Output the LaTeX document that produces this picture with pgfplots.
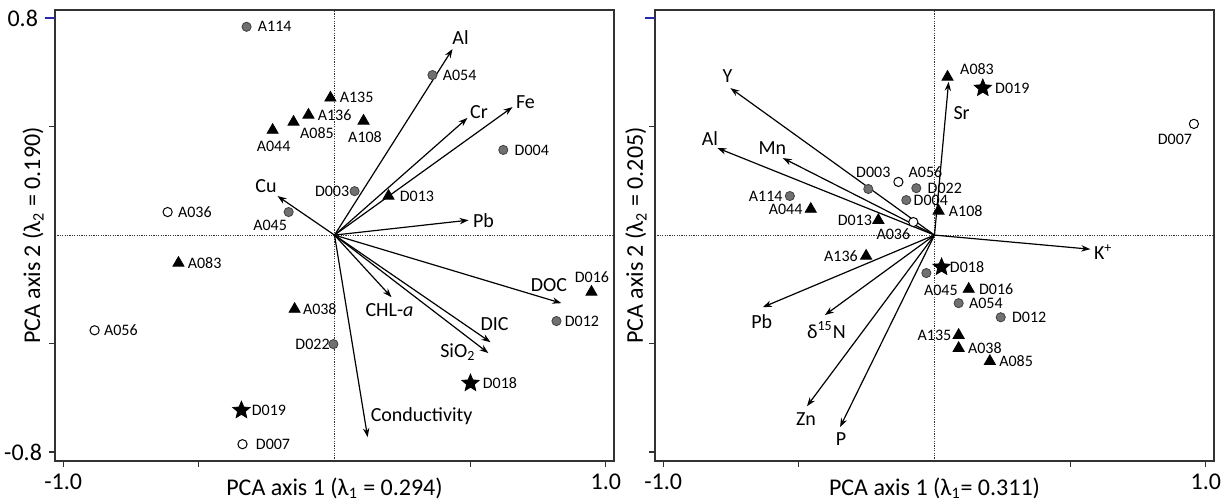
\documentclass[border=0pt]{standalone}
\usepackage{fontspec}
\setmainfont{Carlito}
\usepackage{pgfplots}
\usepackage{pgfplotstable}
\pgfplotsset{compat=1.18}
\usetikzlibrary{arrows.meta}

\definecolor{ptgray}{RGB}{112,112,112}
\definecolor{boxgray}{RGB}{50,50,50}
\definecolor{tickblue}{RGB}{40,40,170}

% filled five-pointed star
\pgfdeclareplotmark{fstar}{%
  \pgfpathmoveto{\pgfpointpolar{90}{\pgfplotmarksize}}%
  \pgfpathlineto{\pgfpointpolar{126}{0.45\pgfplotmarksize}}%
  \pgfpathlineto{\pgfpointpolar{162}{\pgfplotmarksize}}%
  \pgfpathlineto{\pgfpointpolar{198}{0.45\pgfplotmarksize}}%
  \pgfpathlineto{\pgfpointpolar{234}{\pgfplotmarksize}}%
  \pgfpathlineto{\pgfpointpolar{270}{0.45\pgfplotmarksize}}%
  \pgfpathlineto{\pgfpointpolar{306}{\pgfplotmarksize}}%
  \pgfpathlineto{\pgfpointpolar{342}{0.45\pgfplotmarksize}}%
  \pgfpathlineto{\pgfpointpolar{18}{\pgfplotmarksize}}%
  \pgfpathlineto{\pgfpointpolar{54}{0.45\pgfplotmarksize}}%
  \pgfpathclose
  \pgfusepathqfillstroke}

% site scores: x, y, label, label anchor, label shift (pt)
\pgfplotstableread[col sep=comma,row sep=\\]{
x,y,lab,anc,dx,dy\\
-0.324,0.768,A114,west,5.5,0\\
0.361,0.590,A054,west,5,0\\
0.622,0.314,D004,west,5.5,0\\
0.074,0.162,D003,east,-2.5,0\\
-0.169,0.085,A045,center,-9.25,-6.75\\
-0.004,-0.402,D022,east,-1.7,0\\
0.818,-0.317,D012,west,4,0\\
}\LGray
\pgfplotstableread[col sep=comma,row sep=\\]{
x,y,lab,anc,dx,dy\\
-0.615,0.085,A036,west,5,0\\
-0.884,-0.351,A056,west,4.5,0\\
-0.339,-0.771,D007,west,6.5,0\\
}\LOpen
\pgfplotstableread[col sep=comma,row sep=\\]{
x,y,lab,anc,dx,dy\\
-0.015,0.506,A135,west,4.5,0\\
-0.096,0.443,A136,west,4.5,0\\
-0.151,0.417,A085,center,11.75,-5.5\\
-0.228,0.387,A044,center,0.5,-8\\
0.107,0.421,A108,center,0.75,-8\\
0.199,0.144,D013,west,5.5,0\\
-0.575,-0.103,A083,west,4.5,0\\
-0.147,-0.273,A038,west,4,0\\
0.947,-0.210,D016,center,0.25,7.5\\
}\LTri
\pgfplotstableread[col sep=comma,row sep=\\]{
x,y,lab,anc,dx,dy\\
-0.343,-0.646,D019,west,5,0\\
0.501,-0.546,D018,west,6,0\\
}\LStar

\pgfplotstableread[col sep=comma,row sep=\\]{
x,y,lab,anc,dx,dy\\
-0.244,0.170,D003,center,2.5,8.5\\
-0.067,0.173,D022,west,5.5,0\\
-0.104,0.129,D004,west,3.5,0\\
-0.533,0.144,A114,east,-3.5,0\\
-0.030,-0.140,A045,center,7.25,-8.5\\
0.089,-0.251,A054,west,5,0\\
0.244,-0.303,D012,west,5.5,0\\
}\RGray
\pgfplotstableread[col sep=comma,row sep=\\]{
x,y,lab,anc,dx,dy\\
-0.133,0.196,A056,center,13.5,5\\
-0.078,0.048,A036,center,-10,-6\\
0.956,0.410,D007,center,-9.5,-7.5\\
}\ROpen
\pgfplotstableread[col sep=comma,row sep=\\]{
x,y,lab,anc,dx,dy\\
0.048,0.583,A083,center,14.75,4\\
0.015,0.089,A108,west,5,0\\
-0.456,0.096,A044,east,-4,0\\
-0.207,0.055,D013,east,-3,0\\
-0.252,-0.077,A136,east,-4,0\\
0.126,-0.199,D016,west,5,0\\
0.089,-0.369,A135,east,-3.5,0\\
0.089,-0.417,A038,west,4.5,0\\
0.204,-0.465,A085,west,4.5,0\\
}\RTri
\pgfplotstableread[col sep=comma,row sep=\\]{
x,y,lab,anc,dx,dy\\
0.178,0.542,D019,west,6,0\\
0.026,-0.118,D018,west,4,0\\
}\RStar

\tikzset{
  vlab/.style={font=\fontsize{10}{12}\selectfont, text=black},
  plab/.style={font=\fontsize{8}{9}\selectfont, text=black, inner sep=0pt},
}

% write the site names of one table beside its points
\newcommand\sitelabels[1]{%
  \pgfplotstablegetrowsof{#1}%
  \pgfmathtruncatemacro\nrows{\pgfplotsretval-1}%
  \pgfplotsforeachungrouped \i in {0,...,\nrows}{%
    \pgfplotstablegetelem{\i}{x}\of{#1}\let\sx\pgfplotsretval
    \pgfplotstablegetelem{\i}{y}\of{#1}\let\sy\pgfplotsretval
    \pgfplotstablegetelem{\i}{lab}\of{#1}\let\sl\pgfplotsretval
    \pgfplotstablegetelem{\i}{anc}\of{#1}\let\sa\pgfplotsretval
    \pgfplotstablegetelem{\i}{dx}\of{#1}\let\sdx\pgfplotsretval
    \pgfplotstablegetelem{\i}{dy}\of{#1}\let\sdy\pgfplotsretval
    \edef\tmp{\noexpand\node[plab, anchor=\sa, xshift=\sdx pt, yshift=\sdy pt]
      at (axis cs:\sx,\sy) {\sl};}%
    \tmp
  }}

\pgfplotsset{
  pca/.style={
    scale only axis, width=279.5pt, height=225.5pt,
    xmin=-1.03, xmax=1.03, ymin=-0.833, ymax=0.83,
    axis line style={boxgray, line width=0.7pt},
    tick align=outside, xtick pos=bottom, ytick pos=left,
    xtick={-1,-0.5,0.5,1}, ytick={-0.8,-0.4,0.4},
    major tick length=3pt, tick style={boxgray, line width=0.6pt},
    extra y ticks={0.8},
    extra y tick style={tick style={tickblue, line width=0.8pt}, major tick length=5pt},
    ticklabel style={font=\fontsize{12}{14}\selectfont},
    label style={font=\fontsize{12}{14}\selectfont},
    xlabel style={at={(axis description cs:0.5,0)}, anchor=base, yshift=-17pt},
    clip=false,
  },
  sgray/.style={only marks, mark=*, mark size=2.3pt, mark options={fill=ptgray, draw=black!75, line width=0.4pt}},
  sopen/.style={only marks, mark=*, mark size=2.3pt, mark options={fill=white, draw=black, line width=0.5pt}},
  stri/.style={only marks, mark=triangle*, mark size=3.2pt, mark options={fill=black, draw=black}},
  sstar/.style={only marks, mark=fstar, mark size=4.5pt, mark options={fill=black, draw=black}},
  arr/.style={black, line width=0.6pt, mark=none, -{Stealth[length=4.5pt,width=3.2pt]}},
}

\begin{document}
\begin{tikzpicture}
\useasboundingbox (-27.5pt,-19.5pt) rectangle (583pt,230.5pt);

% ---------------- left panel ----------------
\begin{axis}[pca, at={(0pt,0pt)}, anchor=south west,
  xticklabels={-1.0,,,1.0}, yticklabels={-0.8,,}, extra y tick labels={0.8},
  xlabel={PCA axis 1 (λ\textsubscript{1} = 0.294)},
  ylabel={PCA axis 2 (λ\textsubscript{2} = 0.190)},
  ylabel style={at={(axis description cs:-0.0268,0.5)}, anchor=base},
]
\draw[boxgray, line width=0.4pt, dash pattern=on 0.6pt off 0.6pt] (axis cs:0,-0.833) -- (axis cs:0,0.83);
\draw[boxgray, line width=0.4pt, dash pattern=on 0.6pt off 0.6pt] (axis cs:-1.03,0) -- (axis cs:1.03,0);

\addplot[arr] coordinates {(0,0) (0.435,0.686)} node[pos=1, vlab, xshift=4pt, yshift=5.5pt] {Al};
\addplot[arr] coordinates {(0,0) (0.490,0.432)} node[pos=1, vlab, xshift=5.75pt, yshift=2.75pt] {Cr};
\addplot[arr] coordinates {(0,0) (0.656,0.472)} node[pos=1, vlab, xshift=6.5pt, yshift=2.25pt] {Fe};
\addplot[arr] coordinates {(0,0) (0.494,0.055)} node[pos=1, vlab, xshift=7.5pt, yshift=-0.25pt] {Pb};
\addplot[arr] coordinates {(0,0) (-0.210,0.144)} node[pos=1, vlab, xshift=-5.75pt, yshift=4.75pt] {Cu};
\addplot[arr] coordinates {(0,0) (0.210,-0.229)} node[pos=1, vlab, xshift=-1pt, yshift=-6.5pt] {CHL-\textit{a}};
\addplot[arr] coordinates {(0,0) (0.575,-0.395)} node[pos=1, vlab, xshift=2pt, yshift=9.25pt] {DIC};
\addplot[arr] coordinates {(0,0) (0.567,-0.435)} node[pos=1, vlab, xshift=-15.25pt, yshift=0.25pt] {SiO\textsubscript{2}};
\addplot[arr] coordinates {(0,0) (0.836,-0.251)} node[pos=1, vlab, xshift=-6.25pt, yshift=9pt] {DOC};
\addplot[arr] coordinates {(0,0) (0.122,-0.745)} node[pos=1, vlab, xshift=27pt, yshift=10.5pt] {Conductivity};

\addplot[sgray] table[x=x, y=y] {\LGray};
\addplot[sopen] table[x=x, y=y] {\LOpen};
\addplot[stri]  table[x=x, y=y] {\LTri};
\addplot[sstar] table[x=x, y=y] {\LStar};
\sitelabels{\LGray}\sitelabels{\LOpen}\sitelabels{\LTri}\sitelabels{\LStar}
\end{axis}

% ---------------- right panel ----------------
\begin{axis}[pca, at={(300pt,0pt)}, anchor=south west,
  xticklabels={-1.0,,,1.0}, yticklabels={,,}, extra y tick labels={},
  xlabel={PCA axis 1 (λ\textsubscript{1}= 0.311)},
  ylabel={PCA axis 2 (λ\textsubscript{2} = 0.205)},
  ylabel style={at={(axis description cs:-0.0215,0.5)}, anchor=base},
]
\draw[boxgray, line width=0.4pt, dash pattern=on 0.6pt off 0.6pt] (axis cs:0,-0.833) -- (axis cs:0,0.83);
\draw[boxgray, line width=0.4pt, dash pattern=on 0.6pt off 0.6pt] (axis cs:-1.03,0) -- (axis cs:1.03,0);

\addplot[arr] coordinates {(0,0) (-0.752,0.542)} node[pos=1, vlab, xshift=-1.5pt, yshift=6pt] {Y};
\addplot[arr] coordinates {(0,0) (-0.800,0.321)} node[pos=1, vlab, xshift=-3.75pt, yshift=4.5pt] {Al};
\addplot[arr] coordinates {(0,0) (-0.559,0.284)} node[pos=1, vlab, xshift=-5.25pt, yshift=5pt] {Mn};
\addplot[arr] coordinates {(0,0) (0.052,0.565)} node[pos=1, vlab, xshift=6.5pt, yshift=-15.75pt] {Sr};
\addplot[arr] coordinates {(0,0) (0.574,-0.052)} node[pos=1, vlab, xshift=6.5pt, yshift=-1.5pt] {K\textsuperscript{+}};
\addplot[arr] coordinates {(0,0) (-0.633,-0.266)} node[pos=1, vlab, xshift=-0.5pt, yshift=-7pt] {Pb};
\addplot[arr] coordinates {(0,0) (-0.404,-0.295)} node[pos=1, vlab, xshift=0.75pt, yshift=-7.5pt] {δ\textsuperscript{15}N};
\addplot[arr] coordinates {(0,0) (-0.470,-0.631)} node[pos=1, vlab, xshift=-0.5pt, yshift=-6.5pt] {Zn};
\addplot[arr] coordinates {(0,0) (-0.348,-0.708)} node[pos=1, vlab, xshift=0.5pt, yshift=-5.75pt] {P};

\addplot[sgray] table[x=x, y=y] {\RGray};
\addplot[sopen] table[x=x, y=y] {\ROpen};
\addplot[stri]  table[x=x, y=y] {\RTri};
\addplot[sstar] table[x=x, y=y] {\RStar};
\sitelabels{\RGray}\sitelabels{\ROpen}\sitelabels{\RTri}\sitelabels{\RStar}
\end{axis}
\end{tikzpicture}
\end{document}
